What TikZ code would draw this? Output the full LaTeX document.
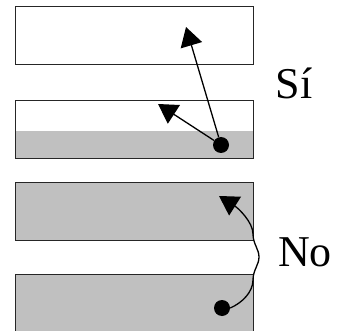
\documentclass[tikz,border=0pt]{standalone}
\usepackage{fontspec}
\setmainfont{Liberation Serif}
\usetikzlibrary{arrows.meta}
\definecolor{slab}{HTML}{C0C0C0}
\tikzset{
  panel/.style={draw=black!85, line width=1.4pt, anchor=north west, inner sep=0pt},
  particle/.style={circle, fill=black, inner sep=0pt, minimum size=16pt},
  path line/.style={line width=1.3pt, -{Triangle[length=19pt, width=22pt]}},
  verdict/.style={font=\fontsize{44}{46}\selectfont, inner sep=0pt}
}
\begin{document}
\begin{tikzpicture}[x=1pt, y=-1pt]
  \useasboundingbox (0,0) rectangle (337,331);
  \begin{scope}
    \clip (0,0) rectangle (337,331);
    % shaded fills
    \fill[slab] (15,131) rectangle (253,158);
    \fill[slab] (15,182) rectangle (253,240);
    \fill[slab] (15,274) rectangle (253,340);
    % panels
    \node[panel, minimum width=238pt, minimum height=58pt] (p1) at (15,6) {};
    \node[panel, minimum width=238pt, minimum height=58pt] (p2) at (15,100) {};
    \node[panel, minimum width=238pt, minimum height=58pt] (p3) at (15,182) {};
    \node[panel, minimum width=238pt, minimum height=66pt] (p4) at (15,274) {};
  \end{scope}
  % upper case: particle escapes
  \node[particle] (d1) at (221,145) {};
  \coordinate (t1) at (186,27);
  \coordinate (t2) at (158,104);
  \draw[path line] (d1) -- (t1);
  \draw[path line] (d1) -- (t2);
  \node[verdict] (si) at (294,83) {Sí};
  % lower case: particle stays
  \node[particle] (d2) at (222,308) {};
  \coordinate (t3) at (219,196);
  \draw[path line] (d2.east) .. controls (242,303) and (253,292) .. (253,280)
     .. controls (253,270) and (259,265) .. (259,257)
     .. controls (259,249) and (253,244) .. (253,234)
     .. controls (253,222) and (238,208) .. (t3);
  \node[verdict] (no) at (305,252) {No};
\end{tikzpicture}
\end{document}
